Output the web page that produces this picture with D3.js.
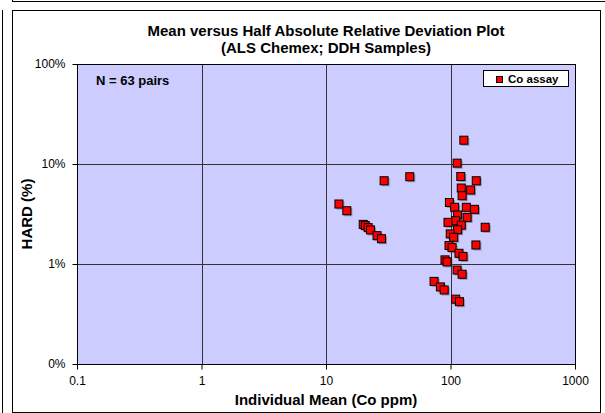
<!DOCTYPE html>
<html>
<head>
<meta charset="utf-8">
<script src="https://cdn.jsdelivr.net/npm/d3@7"></script>
<style>
body { margin: 0; background: #fff; }
text { font-family: Arial, "Liberation Sans", sans-serif; }
</style>
</head>
<body>
<script>
// mean of pair (Co ppm) and half absolute relative deviation (%)
var meanPpm = [12.7, 14.7, 19.9, 20.7, 21.8, 22.8, 25.7, 27.9, 29.3, 47.1,
    128, 113, 121, 161, 122, 145, 124, 98, 108, 134,
    156, 114, 136, 110, 95.5, 122, 190, 114, 99.5, 106,
    160, 97.3, 103, 117, 126, 90.3, 93.8, 113, 124, 73.8,
    83, 89, 110, 118];
var hardPct = [3.98, 3.41, 2.49, 2.42, 2.31, 2.19, 1.92, 1.79, 6.8, 7.46,
    17.3, 10.2, 7.5, 6.8, 5.75, 5.5, 4.82, 4.12, 3.69, 3.69,
    3.52, 3.09, 2.92, 2.71, 2.61, 2.45, 2.33, 2.2, 2.0, 1.85,
    1.55, 1.53, 1.46, 1.28, 1.19, 1.10, 1.05, 0.87, 0.79, 0.67,
    0.59, 0.55, 0.445, 0.42];
var xTicks = [0.1, 1, 10, 100, 1000];
var xTickLabels = ["0.1", "1", "10", "100", "1000"];
var yTicks = [0.1, 1, 10, 100];
var yTickLabels = ["0%", "1%", "10%", "100%"];

var width = 605, height = 413;
var plot = { left: 77, right: 575, top: 64, bottom: 364 };

var svg = d3.select("body").append("svg")
    .attr("width", width)
    .attr("height", height);

// frame lines from the neighbouring charts and the chart frame itself
svg.append("line").attr("x1", 12).attr("x2", 605).attr("y1", 1.5).attr("y2", 1.5)
    .attr("stroke", "#000").attr("stroke-width", 1);
svg.append("line").attr("x1", 12.5).attr("x2", 12.5).attr("y1", 0).attr("y2", 1.5)
    .attr("stroke", "#000");
svg.append("line").attr("x1", 2.5).attr("x2", 2.5).attr("y1", 10).attr("y2", height)
    .attr("stroke", "#000");
svg.append("rect")
    .attr("x", 12.5).attr("y", 10.5)
    .attr("width", 588).attr("height", 402)
    .attr("fill", "#fff").attr("stroke", "#000");

var x = d3.scaleLog().domain([0.1, 1000]).range([plot.left, plot.right]);
var y = d3.scaleLog().domain([0.1, 100]).range([plot.bottom, plot.top]);

svg.append("rect")
    .attr("x", plot.left).attr("y", plot.top)
    .attr("width", plot.right - plot.left)
    .attr("height", plot.bottom - plot.top)
    .attr("fill", "#ccccff");

// gridlines
svg.append("g").selectAll("line")
    .data(xTicks.slice(1, -1))
    .enter().append("line")
    .attr("x1", function (d) { return Math.round(x(d)) + 0.5; })
    .attr("x2", function (d) { return Math.round(x(d)) + 0.5; })
    .attr("y1", plot.top).attr("y2", plot.bottom)
    .attr("stroke", "#333").attr("stroke-width", 1);
svg.append("g").selectAll("line")
    .data(yTicks.slice(1, -1))
    .enter().append("line")
    .attr("y1", function (d) { return Math.round(y(d)) + 0.5; })
    .attr("y2", function (d) { return Math.round(y(d)) + 0.5; })
    .attr("x1", plot.left).attr("x2", plot.right)
    .attr("stroke", "#333").attr("stroke-width", 1);

svg.append("rect")
    .attr("x", plot.left + 0.5).attr("y", plot.top + 0.5)
    .attr("width", plot.right - plot.left)
    .attr("height", plot.bottom - plot.top)
    .attr("fill", "none").attr("stroke", "#000");

// axes
var xAxis = d3.axisBottom(x).tickValues(xTicks)
    .tickFormat(function (d, i) { return xTickLabels[i]; })
    .tickSize(5).tickPadding(7);
var gx = svg.append("g").attr("transform", "translate(0," + (plot.bottom + 0.5) + ")").call(xAxis);
var yAxis = d3.axisLeft(y).tickValues(yTicks)
    .tickFormat(function (d, i) { return yTickLabels[i]; })
    .tickSize(5).tickPadding(7);
var gy = svg.append("g").attr("transform", "translate(" + (plot.left + 0.5) + ",0)").call(yAxis);
[gx, gy].forEach(function (g) {
    g.select(".domain").remove();
    g.selectAll("line").attr("stroke", "#000");
    g.selectAll("text").attr("font-size", 12).attr("fill", "#000")
        .attr("font-family", "Arial, 'Liberation Sans', sans-serif");
});

// points: shadow then marker
var pts = meanPpm.map(function (m, i) { return { m: m, h: hardPct[i] }; });
var dots = svg.append("g");
dots.selectAll("rect.shadow")
    .data(pts).enter().append("rect")
    .attr("class", "shadow")
    .attr("x", function (d) { return x(d.m) - 2.5; })
    .attr("y", function (d) { return y(d.h) - 2.5; })
    .attr("width", 8).attr("height", 8)
    .attr("fill", "#444").attr("opacity", 0.45);
dots.selectAll("rect.pt")
    .data(pts).enter().append("rect")
    .attr("class", "pt")
    .attr("x", function (d) { return x(d.m) - 4; })
    .attr("y", function (d) { return y(d.h) - 4; })
    .attr("width", 8).attr("height", 8)
    .attr("fill", "#ff0000").attr("stroke", "#000").attr("stroke-width", 1);

// titles
var title = svg.append("text")
    .attr("x", 326).attr("y", 35.5)
    .attr("text-anchor", "middle")
    .attr("font-size", 15).attr("font-weight", "bold");
title.append("tspan").attr("x", 326).attr("dy", 0).text("Mean versus Half Absolute Relative Deviation Plot");
title.append("tspan").attr("x", 326).attr("dy", 17).text("(ALS Chemex; DDH Samples)");

svg.append("text")
    .attr("x", 326).attr("y", 405)
    .attr("text-anchor", "middle")
    .attr("font-size", 15).attr("font-weight", "bold")
    .text("Individual Mean (Co ppm)");

svg.append("text")
    .attr("transform", "translate(32,214) rotate(-90)")
    .attr("text-anchor", "middle")
    .attr("font-size", 15).attr("font-weight", "bold")
    .text("HARD (%)");

svg.append("text")
    .attr("x", 96).attr("y", 84.5)
    .attr("font-size", 13).attr("font-weight", "bold")
    .text("N = 63 pairs");

// legend
var leg = svg.append("g");
leg.append("rect")
    .attr("x", 483.5).attr("y", 70.5)
    .attr("width", 85).attr("height", 16)
    .attr("fill", "#fff").attr("stroke", "#000");
leg.append("rect")
    .attr("x", 496.5).attr("y", 76.5)
    .attr("width", 6).attr("height", 6)
    .attr("fill", "#ff0000").attr("stroke", "#000");
leg.append("text")
    .attr("x", 508).attr("y", 83)
    .attr("font-size", 11.5).attr("font-weight", "bold")
    .text("Co assay");
</script>
</body>
</html>
